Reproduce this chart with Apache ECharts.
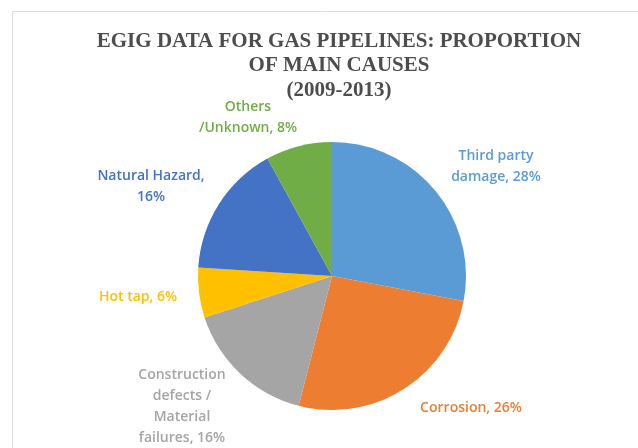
<!DOCTYPE html>
<html>
<head>
<meta charset="utf-8">
<script src="https://cdn.jsdelivr.net/npm/echarts@6/dist/echarts.min.js"></script>
<style>
html,body{margin:0;padding:0;background:#fff;}
#c{width:638px;height:448px;}
</style>
</head>
<body>
<div id="c"></div>
<script>
const categories = ["Third party damage", "Corrosion", "Construction defects / Material failures", "Hot tap", "Natural Hazard", "Others /Unknown"];
const values = [28, 26, 16, 6, 16, 8];
const colors = ["#5B9BD5", "#ED7D31", "#A5A5A5", "#FFC000", "#4472C4", "#70AD47"];
const labelTexts = ["Third party\ndamage, 28%", "Corrosion, 26%", "Construction\ndefects /\nMaterial\nfailures, 16%", "Hot tap, 6%", "Natural Hazard,\n16%", "Others\n/Unknown, 8%"];
const labelCenters = [[496, 167], [471, 408], [182, 407], [138, 297], [151, 187], [248, 118]];

const chart = echarts.init(document.getElementById('c'), null, {renderer: 'canvas'});
chart.setOption({
  animation: false,
  title: {
    text: "EGIG DATA FOR GAS PIPELINES: PROPORTION\nOF MAIN CAUSES\n(2009-2013)",
    left: 334, top: 24, textAlign: 'center',
    textStyle: {fontFamily: 'Liberation Serif', fontWeight: 'bold', fontSize: 21, lineHeight: 24.5, color: '#4d4d4d'}
  },
  graphic: [
    {type: 'line', shape: {x1: 12.5, y1: 11.5, x2: 638, y2: 11.5}, style: {stroke: '#dcdcdc', lineWidth: 1}},
    {type: 'line', shape: {x1: 12.5, y1: 11.5, x2: 12.5, y2: 448}, style: {stroke: '#dcdcdc', lineWidth: 1}}
  ],
  series: [{
    type: 'pie',
    center: [332, 276],
    radius: 134,
    startAngle: 90,
    clockwise: true,
    avoidLabelOverlap: false,
    labelLine: {show: false},
    label: {
      show: true, position: 'outside',
      fontFamily: 'Open Sans', fontSize: 14, fontWeight: 600, lineHeight: 21, align: 'center',
      formatter: p => labelTexts[p.dataIndex]
    },
    labelLayout: function (p) {
      const c = labelCenters[p.dataIndex];
      return {x: c[0], y: c[1], align: 'center', verticalAlign: 'middle'};
    },
    data: categories.map((n, i) => ({
      name: n, value: values[i],
      itemStyle: {color: colors[i]},
      label: {color: colors[i]}
    }))
  }]
});
</script>
</body>
</html>
